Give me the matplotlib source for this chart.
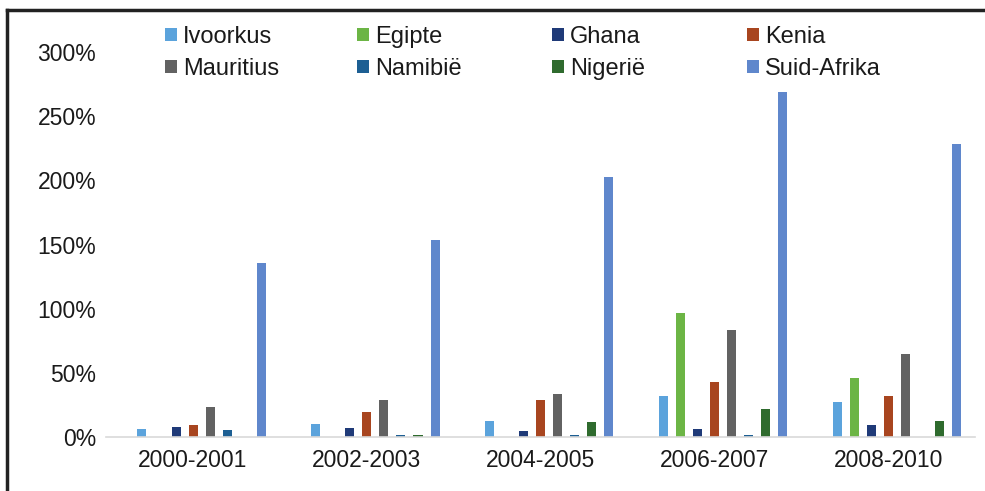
import numpy as np
import matplotlib.pyplot as plt
from matplotlib.lines import Line2D

plt.rcParams['font.family'] = ['Liberation Sans', 'DejaVu Sans']

periodes = ['2000-2001', '2002-2003', '2004-2005', '2006-2007', '2008-2010']
lande = ['Ivoorkus', 'Egipte', 'Ghana', 'Kenia', 'Mauritius', 'Namibië', 'Nigerië', 'Suid-Afrika']

ivoorkus = [6, 10.5, 12.5, 32, 27]
egipte = [0, 0, 0, 96.5, 46]
ghana = [7.5, 7, 5, 6.5, 9]
kenia = [9, 19.5, 29, 43, 32]
mauritius = [23.5, 28.5, 33.5, 83, 65]
namibie = [5.5, 1.5, 1.5, 1.5, 0]
nigerie = [0, 1.8, 11.5, 22, 12.5]
suid_afrika = [135.5, 153.5, 203, 269, 228]

reekse = [ivoorkus, egipte, ghana, kenia, mauritius, namibie, nigerie, suid_afrika]
kleure = ['#5BA3DC', '#6CB545', '#1F3A78', '#A8451F', '#626262', '#1D5F93', '#2F6B2E', '#5F87CC']

fig = plt.figure(figsize=(9.85, 4.91), dpi=100)
ax = fig.add_axes([0.1076, 0.11, 0.8824, 0.784])

x = np.arange(len(periodes))
stap = 0.098
breedte = 0.052
handles = []
for j, (naam, waardes, kleur) in enumerate(zip(lande, reekse, kleure)):
    b = ax.bar(x + (j - 3.5) * stap + 0.05, np.array(waardes) / 100, breedte,
               color=kleur, label=naam)
    handles.append(b)

ax.set_xlim(-0.5, len(periodes) - 0.5)
ax.set_ylim(0, 3.0)
ax.set_yticks(np.arange(0, 3.01, 0.5))
ax.set_yticklabels([f'{int(v * 100)}%' for v in np.arange(0, 3.01, 0.5)])
ax.set_xticks(x)
ax.set_xticklabels(periodes)
ax.tick_params(axis='both', length=0, labelsize=16.5, colors='#1a1a1a')
ax.tick_params(axis='y', pad=7)
ax.tick_params(axis='x', pad=9)
for s in ['top', 'right', 'left']:
    ax.spines[s].set_visible(False)
ax.spines['bottom'].set_color('#D9D9D9')
ax.spines['bottom'].set_linewidth(1.2)

# legend: 4 fixed-width columns, 2 rows each
kolom_x = [165, 357, 552, 747]
for k, px in enumerate(kolom_x):
    leg = fig.legend([handles[k], handles[k + 4]], [lande[k], lande[k + 4]],
                     loc='upper left', bbox_to_anchor=(px / 985, 1 - 26 / 491),
                     frameon=False, fontsize=17, handlelength=0.5, handleheight=0.5,
                     handletextpad=0.25, labelspacing=0.42, borderpad=0,
                     borderaxespad=0)
    for t in leg.get_texts():
        t.set_color('#1a1a1a')

# frame
fig.add_artist(Line2D([0.007, 0.007], [0, 0.98], transform=fig.transFigure,
                      color='#222222', lw=2.5))
fig.add_artist(Line2D([0.007, 1.0], [0.98, 0.98], transform=fig.transFigure,
                      color='#222222', lw=2.5))

fig.savefig('out.png', dpi=100)
